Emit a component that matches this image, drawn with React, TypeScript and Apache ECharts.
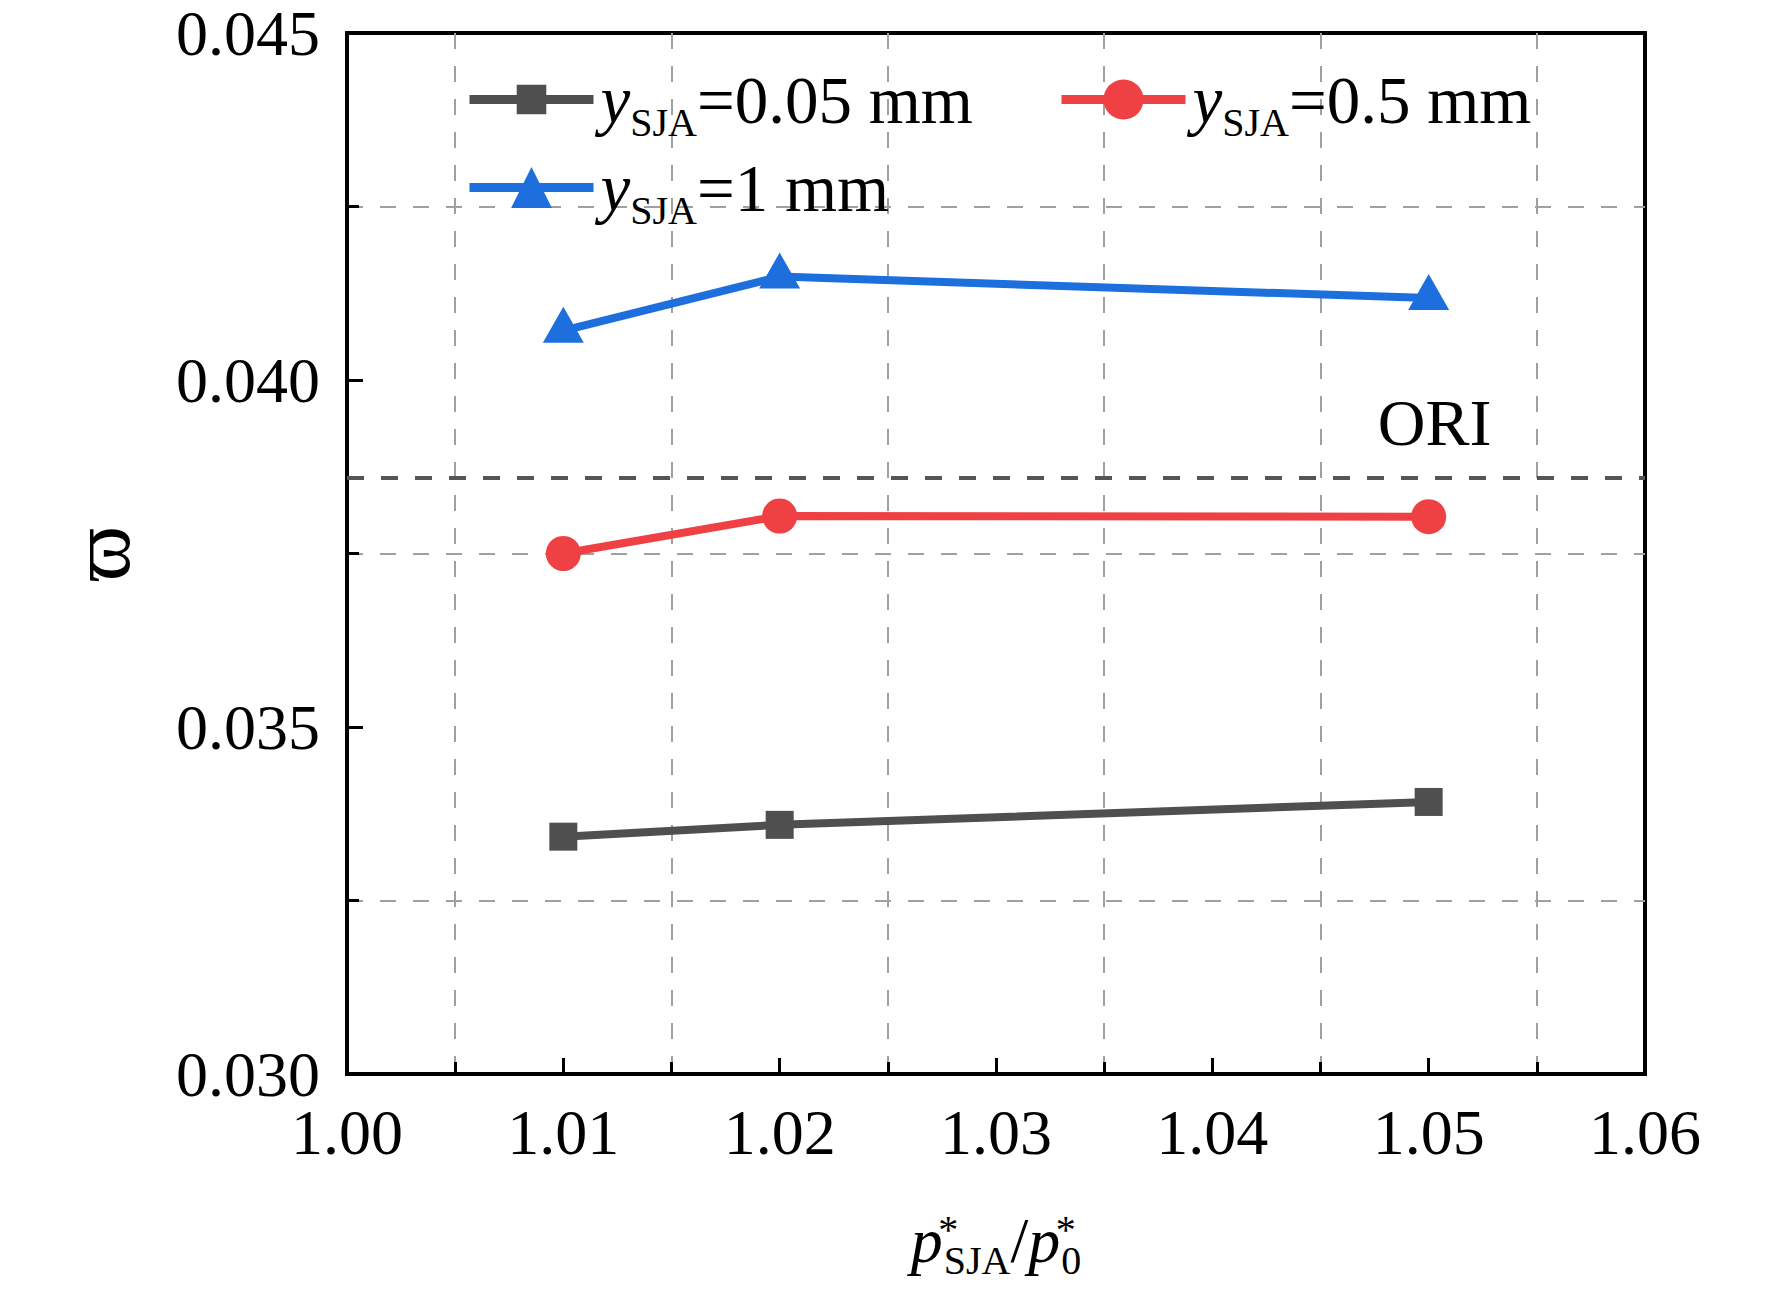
import React, { useEffect, useRef } from "react";
import * as echarts from "echarts";

const X_VALUES = [1.01, 1.02, 1.05];
const Y_005 = [0.03342, 0.03359, 0.03392];
const Y_05 = [0.0375, 0.03804, 0.03803];
const Y_1 = [0.04071, 0.04149, 0.04118];
const ORI_VALUE = 0.03859;
const ORI_LABEL_X = 1.05;

const X_TICKS = { min: 1.0, max: 1.06, interval: 0.01 };
const Y_TICKS = { min: 0.03, max: 0.045, interval: 0.005 };

const SERIES_NAMES = ["y005", "y05", "y1"];
const LEGEND_LABELS: Record<string, string> = {
  y005: "{i|y}{s|SJA}{n|=0.05 mm}",
  y05: "{i|y}{s|SJA}{n|=0.5 mm}",
  y1: "{i|y}{s|SJA}{n|=1 mm}",
};

const FONT = "'Liberation Serif', 'Times New Roman', 'DejaVu Serif', serif";
const C_BLACK = "#4f4f4f";
const C_RED = "#ef4143";
const C_BLUE = "#1c6fdc";

const legendRich = {
  i: { fontFamily: FONT, fontStyle: "italic", fontSize: 67, lineHeight: 70, padding: [0, 0, 0, 2], color: "#000" },
  s: { fontFamily: FONT, fontSize: 40, lineHeight: 20, height: 24, verticalAlign: "bottom", color: "#000" },
  n: { fontFamily: FONT, fontSize: 67, lineHeight: 70, color: "#000" },
};

function makeLegend(name: string, left: number, top: number, itemHeight: number) {
  return {
    show: true,
    data: [name],
    left,
    top,
    padding: 0,
    itemWidth: 124,
    itemHeight,
    selectedMode: false,
    lineStyle: { width: 9 },
    formatter: (n: string) => LEGEND_LABELS[n],
    textStyle: { fontFamily: FONT, fontSize: 67, color: "#000", rich: legendRich },
  };
}

export default function App() {
  const ref = useRef<HTMLDivElement>(null);
  useEffect(() => {
    if (!ref.current) return;
    const chart = echarts.init(ref.current, undefined, { renderer: "svg" });
    const pts = (ys: number[]) => X_VALUES.map((x, i) => [x, ys[i]]);
    const option: any = {
      animation: false,
      backgroundColor: "#fff",
      grid: {
        left: 347,
        right: 127,
        top: 33,
        bottom: 215,
        show: true,
        borderColor: "#000",
        borderWidth: 4,
      },
      legend: [
        makeLegend("y005", 465, 66, 37),
        makeLegend("y05", 1057, 66, 50),
        makeLegend("y1", 465, 154, 51),
      ],
      xAxis: {
        type: "value",
        min: X_TICKS.min,
        max: X_TICKS.max,
        interval: X_TICKS.interval,
        axisLine: { show: true, lineStyle: { color: "#000", width: 4 } },
        axisTick: { show: true, inside: true, length: 16, lineStyle: { color: "#000", width: 3 } },
        minorTick: { show: true, splitNumber: 2, length: 12, lineStyle: { color: "#000", width: 3 } },
        splitLine: { show: false },
        minorSplitLine: { show: true, lineStyle: { color: "#a0a0a0", width: 2, type: [16, 17] } },
        axisLabel: {
          fontFamily: FONT,
          fontSize: 64,
          color: "#000",
          margin: 26,
          formatter: (v: number) => v.toFixed(2),
        },
        name: "{pi|p}{sup| *}{sub|SJA}{n|/}{pi|p}{sup| *}{sub|0}",
        nameLocation: "middle",
        nameGap: 126,
        nameTextStyle: {
          fontFamily: FONT,
          fontSize: 64,
          color: "#000",
          rich: {
            pi: { fontFamily: FONT, fontStyle: "italic", fontSize: 64, lineHeight: 80, color: "#000" },
            n: { fontFamily: FONT, fontSize: 64, lineHeight: 80, color: "#000" },
            sup: { fontFamily: FONT, fontSize: 40, lineHeight: 40, height: 58, width: 1, verticalAlign: "top", color: "#000" },
            sub: { fontFamily: FONT, fontSize: 40, lineHeight: 46, verticalAlign: "bottom", color: "#000" },
          },
        },
      },
      yAxis: {
        type: "value",
        min: Y_TICKS.min,
        max: Y_TICKS.max,
        interval: Y_TICKS.interval,
        axisLine: { show: true, lineStyle: { color: "#000", width: 4 } },
        axisTick: { show: true, inside: true, length: 16, lineStyle: { color: "#000", width: 3 } },
        minorTick: { show: true, splitNumber: 2, length: 12, lineStyle: { color: "#000", width: 3 } },
        splitLine: { show: false },
        minorSplitLine: { show: true, lineStyle: { color: "#a0a0a0", width: 2, type: [16, 17] } },
        axisLabel: {
          fontFamily: FONT,
          fontSize: 64,
          color: "#000",
          margin: 27,
          formatter: (v: number) => v.toFixed(3),
        },
        name: "\u03D6",
        nameLocation: "middle",
        nameRotate: 90,
        nameGap: 205,
        nameTextStyle: { fontFamily: FONT, fontSize: 84, color: "#000" },
      },
      series: [
        {
          name: "ORI",
          type: "line",
          data: [],
          silent: true,
          markLine: {
            silent: true,
            precision: 6,
            symbol: ["none", "none"],
            label: { show: false },
            lineStyle: { color: "#555", width: 4, type: [17, 17] },
            data: [{ yAxis: ORI_VALUE }],
          },
          markPoint: {
            silent: true,
            symbol: "circle",
            symbolSize: 1,
            itemStyle: { color: "rgba(0,0,0,0)" },
            label: {
              show: true,
              formatter: "ORI",
              position: "inside",
              offset: [6, -55],
              fontFamily: FONT,
              fontSize: 66,
              color: "#000",
            },
            data: [{ coord: [ORI_LABEL_X, ORI_VALUE] }],
          },
        },
        {
          name: SERIES_NAMES[0],
          type: "line",
          data: pts(Y_005),
          symbol: "rect",
          symbolSize: 28,
          lineStyle: { color: C_BLACK, width: 8 },
          itemStyle: { color: C_BLACK },
        },
        {
          name: SERIES_NAMES[1],
          type: "line",
          data: pts(Y_05),
          symbol: "circle",
          symbolSize: 35,
          lineStyle: { color: C_RED, width: 8 },
          itemStyle: { color: C_RED },
        },
        {
          name: SERIES_NAMES[2],
          type: "line",
          data: pts(Y_1),
          symbol: "triangle",
          symbolSize: [41, 36],
          symbolOffset: [0, -6],
          lineStyle: { color: C_BLUE, width: 8 },
          itemStyle: { color: C_BLUE },
        },
      ],
    };
    chart.setOption(option);
    return () => chart.dispose();
  }, []);
  return (
    <div
      ref={ref}
      style={{ position: "fixed", left: 0, top: 0, width: 1772, height: 1289, background: "#fff" }}
    />
  );
}
